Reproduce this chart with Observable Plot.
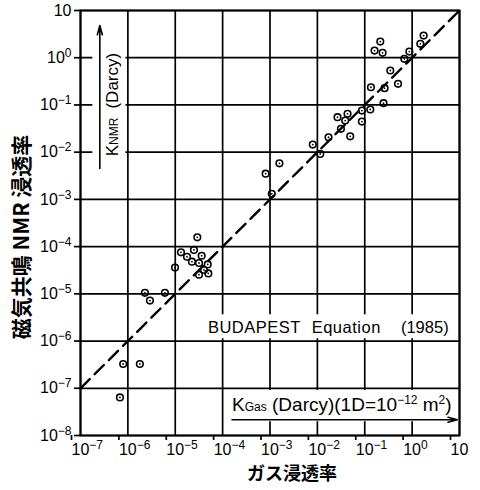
<!DOCTYPE html>
<html><head><meta charset="utf-8">
<script src="https://cdn.jsdelivr.net/npm/d3@7"></script>
<script src="https://cdn.jsdelivr.net/npm/@observablehq/plot@0.6"></script>
<style>body{margin:0;background:#fff} svg{display:block}</style>
</head><body><div id="chart"></div>
<script>
// Gas permeability (Darcy) — x values
const gasPerm = [
  7.96e-7, 1.79e-6, 6.8e-7,
  2.29e-6, 6.05e-6, 2.92e-6,
  2.92e-5, 1.32e-5, 2.48e-5, 1.77e-5, 3.61e-5, 2.25e-5, 3.17e-5, 9.9e-6, 4.84e-5, 4.04e-5, 4.99e-5, 3.17e-5,
  1.58e-3, 8.1e-4, 1.09e-3, 1.15e-2, 8.0e-3,
  1.72e-2, 3.14e-2, 4.93e-2, 2.66e-2, 4.33e-2, 3.87e-2, 8.7e-2, 0.131, 8.7e-2,
  0.249, 0.135, 0.262, 0.504, 0.346, 0.684, 0.873, 1.49, 1.75, 0.213, 0.161, 0.238
];
// NMR permeability (Darcy) — y values
const nmrPerm = [
  3.27e-7, 3.27e-7, 6.4e-8,
  1.05e-5, 1.05e-5, 7.2e-6,
  1.57e-4, 7.57e-5, 8.5e-5, 6.1e-5, 6.4e-5, 4.8e-5, 4.5e-5, 3.6e-5, 4.2e-5, 3.2e-5, 2.7e-5, 2.55e-5,
  5.8e-3, 3.5e-3, 1.31e-3, 9.2e-3, 1.45e-2,
  2.07e-2, 3.12e-2, 2.17e-2, 5.5e-2, 6.5e-2, 4.67e-2, 7.6e-2, 8.0e-2, 4.45e-2,
  0.109, 0.237, 0.226, 0.28, 0.536, 0.948, 1.35, 1.97, 2.95, 2.2, 1.42, 1.27
];
const lineX = [1e-7, 10]; // y = x reference line
const xTicks = [1e-7, 1e-6, 1e-5, 1e-4, 1e-3, 1e-2, 1e-1, 1, 10];
const xTickLabels = ["10^-7","10^-6","10^-5","10^-4","10^-3","10^-2","10^-1","10^0","10"];
const yTicks = [1e-8, 1e-7, 1e-6, 1e-5, 1e-4, 1e-3, 1e-2, 1e-1, 1, 10];
const yTickLabels = ["10^-8","10^-7","10^-6","10^-5","10^-4","10^-3","10^-2","10^-1","10^0","10"];
const xTitle = "ガス浸透率";
const yTitle = "磁気共鳴 NMR 浸透率";
const equationLabel = "BUDAPEST Equation";
const yearLabel = "(1985)";
const kGasLabel = "KGAS_LABEL";
const kNmrLabel = "KNMR_LABEL";

const points = gasPerm.map((x, i) => ({x, y: nmrPerm[i]}));
const font = "'Liberation Sans', Arial, 'Noto Sans CJK JP', sans-serif";
const cjk = "'Noto Sans CJK JP', 'Liberation Sans', sans-serif";

const chart = Plot.plot({
  width: 480, height: 490,
  marginLeft: 80, marginRight: 21, marginTop: 10, marginBottom: 55,
  style: {fontFamily: font, fontSize: "16px", color: "#000", background: "#fff", overflow: "visible"},
  x: {type: "log", domain: [1e-7, 10]},
  y: {type: "log", domain: [1e-8, 10]},
  marks: [
    Plot.gridX({ticks: xTicks, stroke: "#000", strokeOpacity: 1, strokeWidth: 1.7}),
    Plot.gridY({ticks: yTicks, stroke: "#000", strokeOpacity: 1, strokeWidth: 1.7}),
    // white annotation boxes
    Plot.rect([0], {x1: 4.46e-5, x2: 7.4, y1: 1.12e-6, y2: 3.6e-6, fill: "#fff"}),
    Plot.rect([0], {x1: 1.12e-4, x2: 9.5, y1: 1.96e-8, y2: 9.0e-8, fill: "#fff"}),
    Plot.rect([0], {x1: 1.82e-7, x2: 9.1e-7, y1: 3.7e-3, y2: 5.6, fill: "#fff"}),
    Plot.frame({stroke: "#000", strokeWidth: 2}),
    Plot.axisX({ticks: xTicks, tickSize: 5, tickPadding: 3, strokeWidth: 1.7,
      tickFormat: d => xTickLabels[xTicks.indexOf(d)], textAnchor: "start", dx: -9, fontSize: 16, label: null}),
    Plot.axisY({ticks: yTicks, tickSize: 6, tickPadding: 3, strokeWidth: 1.7,
      tickFormat: d => yTickLabels[yTicks.indexOf(d)], fontSize: 16, label: null}),
    Plot.line(lineX, {x: d => d, y: d => d, stroke: "#000", strokeWidth: 2.4, strokeDasharray: "13,7"}),
    Plot.dot(points, {x: "x", y: "y", r: 3.3, stroke: "#000", strokeWidth: 1.6, fill: "none"}),
    Plot.dot(points, {x: "x", y: "y", r: 0.9, fill: "#000"}),
    Plot.text([equationLabel], {x: 4.9e-5, y: 1.9e-6, textAnchor: "start", fontSize: 16.5, fill: "#000"}),
    Plot.text([yearLabel], {x: 5.9, y: 1.9e-6, textAnchor: "end", fontSize: 16.5, fill: "#000"}),
    Plot.text([kGasLabel], {x: 1.58e-4, y: 4.5e-8, textAnchor: "start", fontSize: 19, fill: "#000"}),
    Plot.arrow([0], {x1: 1.58e-4, y1: 2.16e-8, x2: 9.0, y2: 2.16e-8, stroke: "#000", strokeWidth: 1.6, headLength: 9, headAngle: 30}),
    Plot.text([kNmrLabel], {x: 4.8e-7, y: 0.102, rotate: -90, textAnchor: "middle", fontSize: 17, fill: "#000"}),
    Plot.arrow([0], {x1: 2.56e-7, y1: 4.5e-3, x2: 2.56e-7, y2: 4.8, stroke: "#000", strokeWidth: 1.6, headLength: 9, headAngle: 30}),
    Plot.text([xTitle], {frameAnchor: "bottom", textAnchor: "middle", dx: 22, dy: 44, fontSize: 18, fontWeight: "bold", fontFamily: cjk, fill: "#000"}),
    Plot.text([yTitle], {frameAnchor: "left", textAnchor: "middle", dx: -58, dy: 14, rotate: -90, fontSize: 21, fontWeight: "bold", fontFamily: cjk, fill: "#000"})
  ]
});

// superscript exponents in tick labels, subscripts in annotations
chart.querySelectorAll("text").forEach(t => {
  const s = t.textContent;
  const m = s.match(/^10\^(.+)$/);
  if (m) {
    t.innerHTML = `10<tspan font-size="12" dy="-0.5em">${m[1].replace("-", "\u2212")}</tspan>`;
  } else if (s === kGasLabel) {
    t.innerHTML = `K<tspan font-size="12">Gas</tspan><tspan> (Darcy)(1D=10</tspan><tspan font-size="12" dy="-7">\u221212</tspan><tspan dy="7"> m</tspan><tspan font-size="12" dy="-7">2</tspan><tspan dy="7">)</tspan>`;
  } else if (s === kNmrLabel) {
    t.innerHTML = `K<tspan font-size="12">NMR</tspan><tspan dx="9">(Darcy)</tspan>`;
  } else if (s === equationLabel) {
    t.style.letterSpacing = "0.5px";
    t.style.wordSpacing = "6px";
  }
});
document.getElementById("chart").appendChild(chart);
</script>
</body></html>
